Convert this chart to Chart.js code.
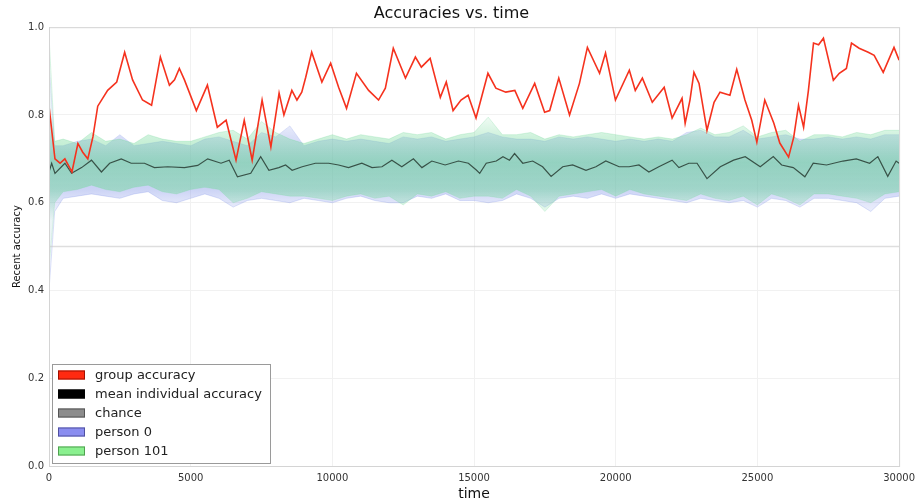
<!DOCTYPE html>
<html>
<head>
<meta charset="utf-8">
<script src="https://cdn.jsdelivr.net/npm/chart.js@4/dist/chart.umd.min.js"></script>
<style>
    html, body { margin: 0; padding: 0; background: #ffffff; }
    #wrap { width: 921px; height: 504px; }
</style>
</head>
<body>
<div id="wrap"><canvas id="accChart" width="921" height="504"></canvas></div>
<script>
// Group accuracy (red)
const groupTime = [0, 210, 390, 560, 810, 1020, 1190, 1370, 1550, 1720, 2070, 2390, 2670, 2950, 3300, 3620, 3930, 4250, 4430, 4600, 4780, 5200, 5590, 5940, 6250, 6600, 6890, 7170, 7520, 7830, 8120, 8290, 8570, 8750, 8920, 9060, 9270, 9630, 9940, 10220, 10500, 10850, 11280, 11630, 11870, 12150, 12580, 12930, 13140, 13450, 13810, 14020, 14260, 14540, 14790, 15070, 15490, 15770, 16120, 16440, 16720, 17140, 17490, 17670, 17990, 18370, 18720, 19000, 19430, 19640, 19990, 20480, 20690, 20940, 21290, 21710, 21990, 22340, 22450, 22620, 22760, 22940, 23220, 23470, 23680, 24030, 24270, 24560, 24800, 24980, 25260, 25580, 25790, 26100, 26280, 26450, 26630, 26800, 26980, 27160, 27330, 27680, 27890, 28140, 28320, 28590, 28910, 29120, 29440, 29820, 30000];
const groupAccuracy = [0.82, 0.70, 0.69, 0.70, 0.67, 0.735, 0.715, 0.70, 0.75, 0.82, 0.856, 0.875, 0.943, 0.88, 0.834, 0.822, 0.932, 0.868, 0.88, 0.906, 0.88, 0.81, 0.868, 0.772, 0.788, 0.697, 0.788, 0.697, 0.834, 0.727, 0.85, 0.80, 0.856, 0.834, 0.852, 0.886, 0.943, 0.875, 0.918, 0.863, 0.815, 0.895, 0.856, 0.834, 0.861, 0.952, 0.884, 0.932, 0.909, 0.929, 0.84, 0.875, 0.81, 0.834, 0.845, 0.793, 0.895, 0.861, 0.852, 0.856, 0.815, 0.872, 0.806, 0.81, 0.884, 0.80, 0.872, 0.954, 0.895, 0.941, 0.834, 0.902, 0.856, 0.884, 0.829, 0.863, 0.793, 0.838, 0.781, 0.834, 0.897, 0.872, 0.765, 0.829, 0.852, 0.845, 0.904, 0.834, 0.788, 0.738, 0.834, 0.781, 0.736, 0.704, 0.749, 0.822, 0.772, 0.856, 0.964, 0.96, 0.975, 0.879, 0.895, 0.906, 0.964, 0.952, 0.943, 0.936, 0.897, 0.954, 0.925];

// Mean individual accuracy (dark line)
const meanTime = [0, 94, 211, 562, 797, 1150, 1500, 1850, 2140, 2550, 2900, 3370, 3720, 4190, 4780, 5250, 5600, 6070, 6360, 6650, 7120, 7470, 7760, 8110, 8350, 8580, 8935, 9400, 9870, 10220, 10570, 11040, 11400, 11750, 12100, 12450, 12860, 13160, 13510, 13980, 14450, 14800, 15090, 15200, 15430, 15785, 16020, 16250, 16430, 16720, 17070, 17420, 17720, 18130, 18480, 18950, 19300, 19650, 20120, 20470, 20820, 21170, 21520, 21990, 22230, 22580, 22870, 23220, 23690, 24160, 24570, 25100, 25560, 25855, 26265, 26675, 26970, 27440, 28020, 28490, 28960, 29250, 29600, 29895, 30000];
const meanAccuracy = [0.67, 0.69, 0.667, 0.69, 0.667, 0.68, 0.697, 0.67, 0.69, 0.70, 0.69, 0.69, 0.68, 0.682, 0.68, 0.685, 0.70, 0.69, 0.697, 0.659, 0.667, 0.705, 0.674, 0.68, 0.686, 0.674, 0.682, 0.69, 0.69, 0.686, 0.68, 0.69, 0.68, 0.682, 0.697, 0.682, 0.70, 0.68, 0.695, 0.686, 0.695, 0.69, 0.674, 0.667, 0.69, 0.695, 0.705, 0.697, 0.712, 0.69, 0.695, 0.682, 0.66, 0.682, 0.686, 0.674, 0.682, 0.695, 0.682, 0.682, 0.686, 0.67, 0.682, 0.697, 0.68, 0.69, 0.69, 0.655, 0.682, 0.697, 0.705, 0.682, 0.705, 0.686, 0.68, 0.659, 0.69, 0.686, 0.695, 0.70, 0.69, 0.705, 0.66, 0.695, 0.69];

// Chance level
const chanceTime = [0, 30000];
const chanceLevel = [0.5, 0.5];

// Individual accuracy spread (high / low edges of each person's trace)
const bandTime = [0, 200, 500, 1000, 1500, 2000, 2500, 3000, 3500, 4000, 4500, 5000, 5500, 6000, 6500, 7000, 7500, 8000, 8500, 9000, 9500, 10000, 10500, 11000, 11500, 12000, 12500, 13000, 13500, 14000, 14500, 15000, 15500, 16000, 16500, 17000, 17500, 18000, 18500, 19000, 19500, 20000, 20500, 21000, 21500, 22000, 22500, 23000, 23500, 24000, 24500, 25000, 25500, 26000, 26500, 27000, 27500, 28000, 28500, 29000, 29500, 30000];
const person101High = [0.98, 0.74, 0.745, 0.735, 0.76, 0.74, 0.745, 0.735, 0.755, 0.745, 0.74, 0.74, 0.75, 0.76, 0.765, 0.745, 0.785, 0.76, 0.745, 0.735, 0.745, 0.755, 0.745, 0.755, 0.75, 0.745, 0.76, 0.755, 0.76, 0.745, 0.755, 0.76, 0.795, 0.755, 0.755, 0.76, 0.745, 0.755, 0.75, 0.755, 0.76, 0.755, 0.75, 0.745, 0.75, 0.745, 0.755, 0.77, 0.755, 0.76, 0.775, 0.75, 0.76, 0.765, 0.74, 0.755, 0.755, 0.75, 0.76, 0.755, 0.765, 0.765];
const person101Low = [0.45, 0.60, 0.625, 0.63, 0.64, 0.63, 0.625, 0.635, 0.64, 0.625, 0.62, 0.63, 0.635, 0.63, 0.60, 0.61, 0.625, 0.62, 0.615, 0.615, 0.61, 0.605, 0.615, 0.62, 0.61, 0.615, 0.595, 0.62, 0.615, 0.625, 0.61, 0.615, 0.615, 0.61, 0.63, 0.615, 0.58, 0.615, 0.62, 0.625, 0.63, 0.615, 0.63, 0.62, 0.615, 0.61, 0.605, 0.62, 0.61, 0.605, 0.615, 0.595, 0.62, 0.61, 0.595, 0.62, 0.62, 0.615, 0.61, 0.60, 0.62, 0.625];
const person0High = [0.92, 0.73, 0.73, 0.74, 0.745, 0.73, 0.755, 0.73, 0.735, 0.74, 0.735, 0.73, 0.745, 0.75, 0.74, 0.73, 0.76, 0.75, 0.775, 0.73, 0.74, 0.745, 0.74, 0.745, 0.74, 0.735, 0.75, 0.745, 0.75, 0.74, 0.745, 0.75, 0.76, 0.75, 0.745, 0.745, 0.74, 0.75, 0.745, 0.75, 0.745, 0.74, 0.745, 0.74, 0.745, 0.74, 0.76, 0.765, 0.75, 0.75, 0.765, 0.745, 0.75, 0.755, 0.745, 0.745, 0.75, 0.745, 0.75, 0.745, 0.755, 0.755];
const person0Low = [0.40, 0.58, 0.61, 0.615, 0.62, 0.615, 0.61, 0.62, 0.625, 0.605, 0.60, 0.61, 0.62, 0.61, 0.59, 0.605, 0.61, 0.605, 0.60, 0.61, 0.605, 0.60, 0.61, 0.615, 0.605, 0.60, 0.60, 0.615, 0.61, 0.62, 0.605, 0.605, 0.60, 0.605, 0.62, 0.61, 0.59, 0.61, 0.615, 0.61, 0.62, 0.61, 0.62, 0.615, 0.61, 0.605, 0.60, 0.61, 0.605, 0.60, 0.605, 0.59, 0.61, 0.605, 0.59, 0.61, 0.61, 0.605, 0.60, 0.58, 0.61, 0.615];

const xTicks = [0, 5000, 10000, 15000, 20000, 25000, 30000];
const yTicks = [0.0, 0.2, 0.4, 0.6, 0.8, 1.0];

const FONT = "'DejaVu Sans', sans-serif";

function toPoints(xs, ys) {
    return xs.map((x, i) => ({ x: x, y: ys[i] }));
}

// Soft vertical fade so the spread looks dense in the middle, thin at the edges
function bandFill(rgb, peak) {
    return function(context) {
        const chart = context.chart;
        const yScale = chart.scales.y;
        if (!chart.chartArea || !yScale) {
            return 'rgba(' + rgb + ',' + peak + ')';
        }
        const top = yScale.getPixelForValue(0.80);
        const bottom = yScale.getPixelForValue(0.56);
        const g = chart.ctx.createLinearGradient(0, top, 0, bottom);
        g.addColorStop(0.0, 'rgba(' + rgb + ',0.08)');
        g.addColorStop(0.2, 'rgba(' + rgb + ',' + (peak * 0.6) + ')');
        g.addColorStop(0.45, 'rgba(' + rgb + ',' + peak + ')');
        g.addColorStop(0.7, 'rgba(' + rgb + ',' + (peak * 0.85) + ')');
        g.addColorStop(0.85, 'rgba(' + rgb + ',' + (peak * 0.45) + ')');
        g.addColorStop(1.0, 'rgba(' + rgb + ',0.08)');
        return g;
    };
}

// Legend entries (drawn inside the plot, lower left)
const legendItems = [
    { text: 'group accuracy', fill: '#ff2a10', stroke: '#a01000' },
    { text: 'mean individual accuracy', fill: '#000000', stroke: '#000000' },
    { text: 'chance', fill: '#8c8c8c', stroke: '#555555' },
    { text: 'person 0', fill: '#8a8df0', stroke: '#5050a0' },
    { text: 'person 101', fill: '#8af08f', stroke: '#50a050' }
];

const frameAndLegend = {
    id: 'frameAndLegend',
    afterDatasetsDraw(chart) {
        const ctx = chart.ctx;
        const area = chart.chartArea;
        ctx.save();
        ctx.strokeStyle = '#d4d4d4';
        ctx.lineWidth = 1;
        ctx.strokeRect(area.left + 0.5, area.top + 0.5, area.right - area.left, area.bottom - area.top);

        // legend box
        const bx = area.left + 3, by = area.bottom - 102, bw = 218, bh = 99;
        ctx.fillStyle = '#ffffff';
        ctx.fillRect(bx, by, bw, bh);
        ctx.strokeStyle = '#9a9a9a';
        ctx.strokeRect(bx + 0.5, by + 0.5, bw, bh);
        ctx.font = '13px ' + FONT;
        ctx.textBaseline = 'middle';
        legendItems.forEach((item, i) => {
            const cy = by + 11 + i * 19;
            ctx.fillStyle = item.fill;
            ctx.fillRect(bx + 6, cy - 4.5, 27, 9);
            ctx.strokeStyle = item.stroke;
            ctx.strokeRect(bx + 6.5, cy - 4, 26, 8);
            ctx.fillStyle = '#222222';
            ctx.fillText(item.text, bx + 43, cy + 1);
        });
        ctx.restore();
    }
};

const ctx = document.getElementById('accChart');

new Chart(ctx, {
    type: 'line',
    data: {
        datasets: [
            {
                label: 'group accuracy',
                data: toPoints(groupTime, groupAccuracy),
                borderColor: '#f5321e',
                borderWidth: 1.6,
                pointRadius: 0,
                fill: false,
                order: 0
            },
            {
                label: 'mean individual accuracy',
                data: toPoints(meanTime, meanAccuracy),
                borderColor: 'rgba(40, 60, 50, 0.85)',
                borderWidth: 1.2,
                pointRadius: 0,
                fill: false,
                order: 1
            },
            {
                label: 'chance',
                data: toPoints(chanceTime, chanceLevel),
                borderColor: 'rgba(200, 200, 200, 0.6)',
                borderWidth: 1.5,
                pointRadius: 0,
                fill: false,
                order: 2
            },
            {
                label: 'person 101',
                data: toPoints(bandTime, person101High),
                borderColor: 'rgba(110, 215, 150, 0.25)',
                backgroundColor: bandFill('110, 215, 150', 0.55),
                borderWidth: 1,
                pointRadius: 0,
                fill: '+1',
                order: 3
            },
            {
                label: 'person 101 low',
                data: toPoints(bandTime, person101Low),
                borderColor: 'rgba(110, 215, 150, 0.2)',
                borderWidth: 1,
                pointRadius: 0,
                fill: false,
                order: 3
            },
            {
                label: 'person 0',
                data: toPoints(bandTime, person0High),
                borderColor: 'rgba(120, 140, 230, 0.2)',
                backgroundColor: bandFill('120, 140, 230', 0.45),
                borderWidth: 1,
                pointRadius: 0,
                fill: '+1',
                order: 4
            },
            {
                label: 'person 0 low',
                data: toPoints(bandTime, person0Low),
                borderColor: 'rgba(120, 140, 230, 0.25)',
                borderWidth: 1,
                pointRadius: 0,
                fill: false,
                order: 4
            }
        ]
    },
    options: {
        responsive: false,
        animation: false,
        layout: { padding: { left: 0, right: 18, top: 0, bottom: 0 } },
        plugins: {
            legend: { display: false },
            tooltip: { enabled: false },
            title: {
                display: true,
                text: 'Accuracies vs. time',
                color: '#111111',
                font: { family: FONT, size: 16, weight: 'normal' },
                padding: { top: 4, bottom: 4 }
            }
        },
        scales: {
            x: {
                type: 'linear',
                min: 0,
                max: 30000,
                afterBuildTicks: function(scale) {
                    scale.ticks = xTicks.map(v => ({ value: v }));
                },
                afterFit: function(scale) {
                    scale.height = 38;
                },
                grid: { color: '#f1f1f1', drawTicks: false },
                border: { color: '#d4d4d4' },
                ticks: {
                    color: '#333333',
                    font: { family: FONT, size: 10 },
                    padding: 6,
                    maxRotation: 0,
                    callback: v => String(v)
                },
                title: {
                    display: true,
                    text: 'time',
                    color: '#111111',
                    font: { family: FONT, size: 14 },
                    padding: { top: 0, bottom: 1 }
                }
            },
            y: {
                min: 0,
                max: 1,
                afterBuildTicks: function(scale) {
                    scale.ticks = yTicks.map(v => ({ value: v }));
                },
                afterFit: function(scale) {
                    scale.width = 49;
                },
                grid: { color: '#f1f1f1', drawTicks: false },
                border: { color: '#d4d4d4' },
                ticks: {
                    color: '#333333',
                    font: { family: FONT, size: 10 },
                    padding: 5,
                    callback: v => Number(v).toFixed(1)
                },
                title: {
                    display: true,
                    text: 'Recent accuracy',
                    color: '#111111',
                    font: { family: FONT, size: 10 },
                    padding: { top: 11, bottom: 0 }
                }
            }
        }
    },
    plugins: [frameAndLegend]
});
</script>
</body>
</html>
